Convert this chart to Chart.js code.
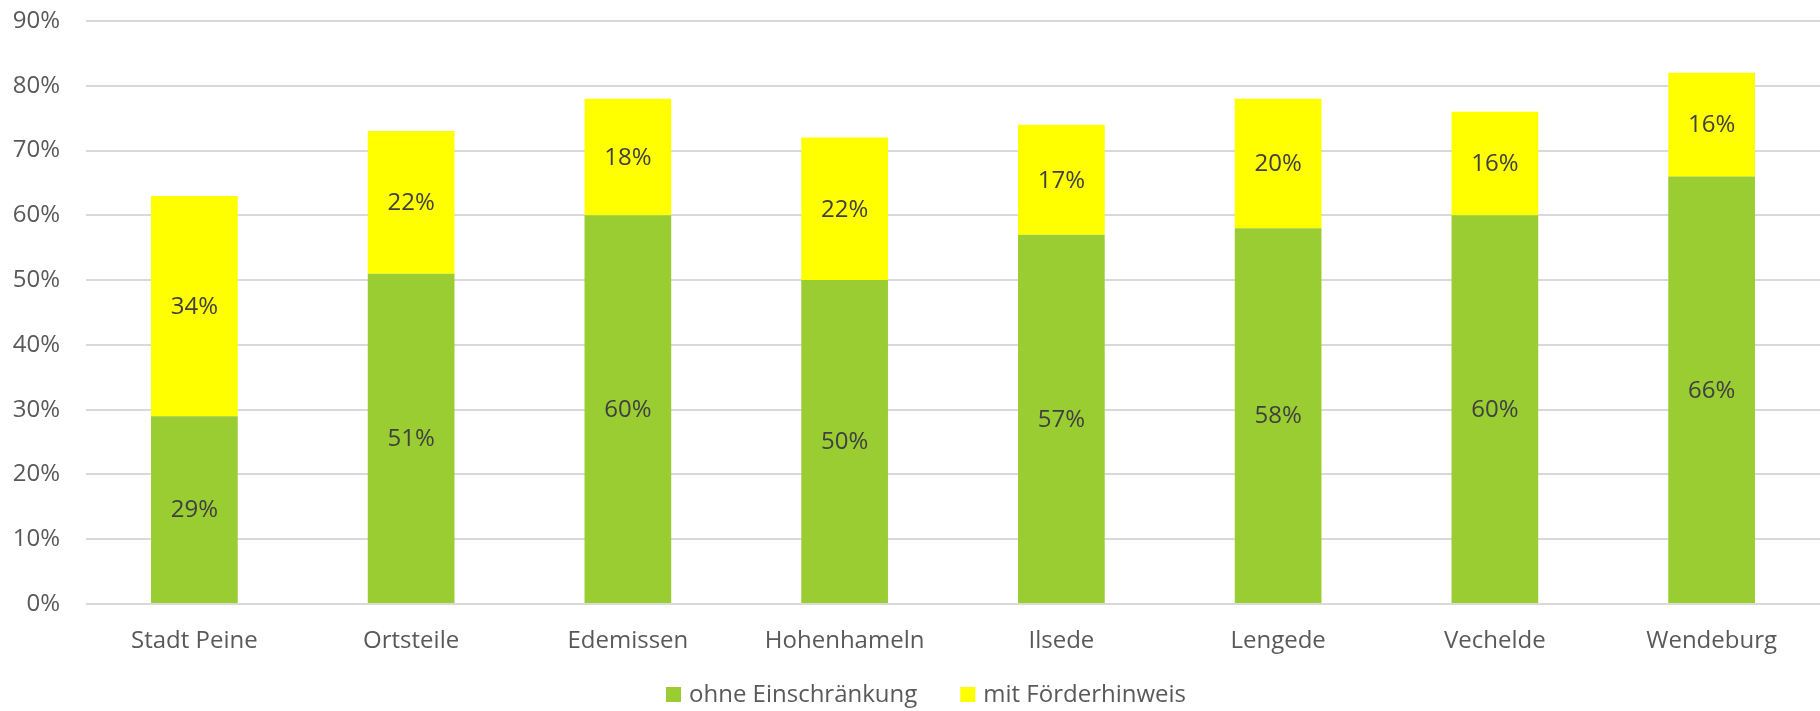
<!DOCTYPE html>
<html>
<head>
<meta charset="utf-8">
<script src="https://cdn.jsdelivr.net/npm/chart.js@4.4.1/dist/chart.umd.min.js"></script>
<style>
html,body{margin:0;padding:0;background:#fff;}
#wrap{width:1820px;height:711px;position:relative;}
</style>
</head>
<body>
<div id="wrap"><canvas id="c"></canvas></div>
<script>
const categories = ["Stadt Peine","Ortsteile","Edemissen","Hohenhameln","Ilsede","Lengede","Vechelde","Wendeburg"];
const ohneEinschraenkung = [29,51,60,50,57,58,60,66];
const mitFoerderhinweis = [34,22,18,22,17,20,16,16];
const seriesNames = ["ohne Einschränkung","mit Förderhinweis"];
const seriesColors = ["#9ACD32","#FFFF00"];
const yTicks = [0,10,20,30,40,50,60,70,80,90];

const FONT = "'Open Sans', 'DejaVu Sans', sans-serif";

const labelPlugin = {
  id: 'segLabels',
  afterDatasetsDraw(chart) {
    const ctx = chart.ctx;
    ctx.save();
    ctx.font = "24px " + FONT;
    ctx.fillStyle = "#404040";
    ctx.textAlign = "center";
    ctx.textBaseline = "middle";
    chart.data.datasets.forEach((ds, di) => {
      const meta = chart.getDatasetMeta(di);
      meta.data.forEach((bar, i) => {
        const y = (bar.y + bar.base) / 2;
        ctx.fillText(ds.data[i] + "%", bar.x, y + 1);
      });
    });
    ctx.restore();
  }
};

const legendPlugin = {
  id: 'customLegend',
  afterDraw(chart) {
    const ctx = chart.ctx;
    ctx.save();
    ctx.font = "24px " + FONT;
    ctx.textBaseline = "middle";
    ctx.textAlign = "left";
    const cy = 694.5;
    let x = 666;
    chart.data.datasets.forEach((ds) => {
      ctx.fillStyle = ds.backgroundColor;
      ctx.fillRect(x, cy - 7.5, 15, 15);
      x += 15 + 8;
      ctx.fillStyle = "#595959";
      ctx.fillText(ds.label, x, cy + 1);
      x += ctx.measureText(ds.label).width + 43;
    });
    ctx.restore();
  }
};

new Chart(document.getElementById('c'), {
  type: 'bar',
  data: {
    labels: categories,
    datasets: [
      { label: seriesNames[0], data: ohneEinschraenkung, backgroundColor: seriesColors[0], borderWidth: 0 },
      { label: seriesNames[1], data: mitFoerderhinweis, backgroundColor: seriesColors[1], borderWidth: 0 }
    ]
  },
  options: {
    responsive: true,
    maintainAspectRatio: false,
    animation: false,
    layout: { padding: { left: 13, right: -4, top: 21, bottom: 47 } },
    datasets: { bar: { categoryPercentage: 1.0, barPercentage: 0.4 } },
    plugins: {
      legend: { display: false },
      tooltip: { enabled: false }
    },
    scales: {
      x: {
        stacked: true,
        grid: { display: false, drawTicks: false },
        border: { display: false },
        ticks: { font: { size: 24, family: FONT }, color: '#595959', padding: 23, maxRotation: 0 },
        afterFit: (axis) => { axis.height = 60; axis.paddingLeft = 0; axis.paddingRight = 0; }
      },
      y: {
        stacked: true,
        min: 0,
        max: 90,
        afterBuildTicks: (axis) => { axis.ticks = yTicks.map(v => ({ value: v })); },
        grid: { color: '#D9D9D9', lineWidth: 2, drawTicks: false },
        border: { display: false },
        ticks: { font: { size: 24, family: FONT }, color: '#595959', padding: 26,
                 callback: (v) => v + '%' },
        afterFit: (axis) => { axis.width = 73; axis.paddingTop = 0; axis.paddingBottom = 0; }
      }
    }
  },
  plugins: [labelPlugin, legendPlugin]
});
</script>
</body>
</html>
